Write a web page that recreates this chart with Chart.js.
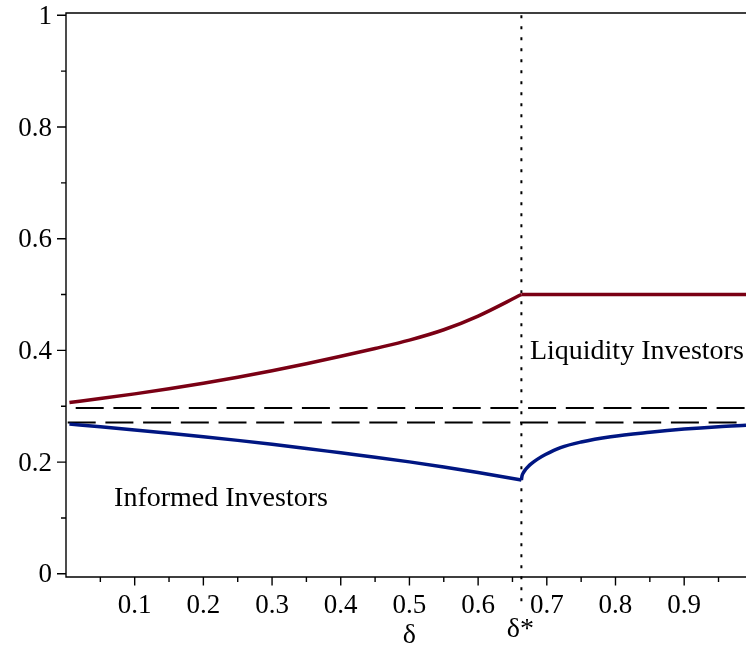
<!DOCTYPE html>
<html>
<head>
<meta charset="utf-8">
<script src="https://cdn.jsdelivr.net/npm/chart.js@4.4.1/dist/chart.umd.min.js"></script>
<style>
  html, body { margin: 0; padding: 0; background: #fff; }
  canvas { display: block; }
</style>
</head>
<body>
<canvas id="c" width="746" height="647"></canvas>
<script>
// Threshold δ* where the regime switches
const deltaStar = 0.663;

// Liquidity investors: rising branch (δ < δ*) and flat branch (δ ≥ δ*)
const liqRiseX = [0.005, 0.05, 0.1, 0.15, 0.2, 0.25, 0.3, 0.35, 0.4, 0.45, 0.5, 0.55, 0.6, 0.663];
const liqRiseY = [0.3066, 0.3137, 0.3222, 0.3314, 0.3413, 0.352, 0.3636, 0.3762, 0.3895, 0.4035, 0.4185, 0.437, 0.4615, 0.500];
const liqFlatX = [0.663, 0.99];
const liqFlatY = [0.500, 0.500];

// Informed investors: falling branch (δ < δ*) and recovering branch (δ ≥ δ*)
const infFallX = [0.005, 0.05, 0.1, 0.15, 0.2, 0.25, 0.3, 0.35, 0.4, 0.45, 0.5, 0.55, 0.6, 0.663];
const infFallY = [0.268, 0.2632, 0.2576, 0.2517, 0.2455, 0.2389, 0.2319, 0.2245, 0.2166, 0.2088, 0.2004, 0.1913, 0.1815, 0.168];
const infRiseX = [0.663, 0.664, 0.666, 0.669, 0.673, 0.678, 0.686, 0.698, 0.72, 0.75, 0.793, 0.85, 0.9, 0.95, 0.99];
const infRiseY = [0.168, 0.1757, 0.1813, 0.1868, 0.1923, 0.1978, 0.2049, 0.2135, 0.226, 0.236, 0.2455, 0.2535, 0.2592, 0.2635, 0.266];

// Horizontal reference levels (dashed)
const levelUpper = 0.297;
const levelLower = 0.271;
const levelX = [0, 0.99];

// Vertical extent of the δ* marker
const starLineY = [1.0, -0.05];

// Axis ticks
const xMajorTicks = [0.1, 0.2, 0.3, 0.4, 0.5, 0.6, 0.7, 0.8, 0.9];
const xMinorTicks = [0.05, 0.15, 0.25, 0.35, 0.45, 0.55, 0.65, 0.75, 0.85, 0.95];
const yMajorTicks = [0, 0.2, 0.4, 0.6, 0.8, 1];
const yMinorTicks = [0.1, 0.3, 0.5, 0.7, 0.9];

// Text labels
const axisSymbol = 'δ';
const starSymbol = 'δ*';
const liquidityLabel = 'Liquidity Investors';
const informedLabel = 'Informed Investors';

const RED = '#7a0014';
const BLUE = '#001682';
const SERIF = '"Liberation Serif", "Times New Roman", serif';

const pts = (xs, ys) => xs.map((x, i) => ({ x, y: ys[i] }));
const constPts = (xs, v) => xs.map(x => ({ x, y: v }));

const curve = (data, color) => ({
  data,
  borderColor: color,
  borderWidth: 3.5,
  pointRadius: 0,
  fill: false,
  cubicInterpolationMode: 'monotone'
});

// Frame, tick marks and in-plot annotations
const decorations = {
  id: 'decorations',
  afterDatasetsDraw(chart) {
    const { ctx, chartArea: a, scales: { x, y } } = chart;
    ctx.save();
    ctx.strokeStyle = '#000';
    ctx.lineWidth = 1.4;
    ctx.beginPath();
    ctx.moveTo(a.right, a.top);
    ctx.lineTo(a.left, a.top);
    ctx.lineTo(a.left, a.bottom);
    ctx.lineTo(a.right, a.bottom);
    ctx.stroke();

    ctx.beginPath();
    yMajorTicks.forEach(v => { const p = y.getPixelForValue(v); ctx.moveTo(a.left - 9, p); ctx.lineTo(a.left, p); });
    yMinorTicks.forEach(v => { const p = y.getPixelForValue(v); ctx.moveTo(a.left - 5, p); ctx.lineTo(a.left, p); });
    xMajorTicks.forEach(v => { const p = x.getPixelForValue(v); ctx.moveTo(p, a.bottom); ctx.lineTo(p, a.bottom + 8.5); });
    xMinorTicks.forEach(v => { const p = x.getPixelForValue(v); ctx.moveTo(p, a.bottom); ctx.lineTo(p, a.bottom + 5); });
    ctx.stroke();

    ctx.fillStyle = '#000';
    ctx.font = '28px ' + SERIF;
    ctx.textBaseline = 'alphabetic';
    ctx.textAlign = 'left';
    ctx.fillText(informedLabel, x.getPixelForValue(0.07), y.getPixelForValue(0.1214));
    ctx.fillText(liquidityLabel, x.getPixelForValue(0.6754), y.getPixelForValue(0.384));

    ctx.textAlign = 'center';
    ctx.fillText(axisSymbol, x.getPixelForValue(0.5), 643);
    ctx.fillText(starSymbol, x.getPixelForValue(deltaStar) - 1, 637);
    ctx.restore();
  }
};

new Chart(document.getElementById('c'), {
  type: 'line',
  data: {
    datasets: [
      curve(pts(liqRiseX, liqRiseY), RED),
      curve(pts(liqFlatX, liqFlatY), RED),
      curve(pts(infFallX, infFallY), BLUE),
      curve(pts(infRiseX, infRiseY), BLUE),
      {
        data: constPts(levelX, levelUpper),
        borderColor: '#000', borderWidth: 2, pointRadius: 0,
        borderDash: [28, 9.7], borderDashOffset: 28
      },
      {
        data: constPts(levelX, levelLower),
        borderColor: '#000', borderWidth: 2, pointRadius: 0,
        borderDash: [28, 9.7], borderDashOffset: 36
      },
      {
        data: starLineY.map(v => ({ x: deltaStar, y: v })),
        borderColor: '#000', borderWidth: 2, pointRadius: 0,
        borderDash: [3, 8], clip: false
      }
    ]
  },
  options: {
    responsive: false,
    animation: false,
    devicePixelRatio: 1,
    layout: { padding: { top: 13, right: 0, left: 0, bottom: 0 } },
    plugins: { legend: { display: false }, tooltip: { enabled: false } },
    scales: {
      x: {
        type: 'linear',
        min: 0,
        max: 0.99,
        grid: { display: false, drawTicks: false },
        border: { display: false },
        ticks: {
          color: '#000',
          font: { family: SERIF, size: 27, lineHeight: 1 },
          padding: 15,
          maxRotation: 0,
          autoSkip: false
        },
        afterBuildTicks: s => { s.ticks = xMajorTicks.map(v => ({ value: v })); },
        afterFit: s => { s.height = 70; s.paddingLeft = 0; s.paddingRight = 0; }
      },
      y: {
        type: 'linear',
        min: -0.0057,
        max: 1.0041,
        grid: { display: false, drawTicks: false },
        border: { display: false },
        ticks: {
          color: '#000',
          font: { family: SERIF, size: 27, lineHeight: 1 },
          padding: 14,
          labelOffset: 1.5,
          callback: v => String(v)
        },
        afterBuildTicks: s => { s.ticks = yMajorTicks.map(v => ({ value: v })); },
        afterFit: s => { s.width = 66; s.paddingTop = 0; s.paddingBottom = 0; }
      }
    }
  },
  plugins: [decorations]
});
</script>
</body>
</html>
